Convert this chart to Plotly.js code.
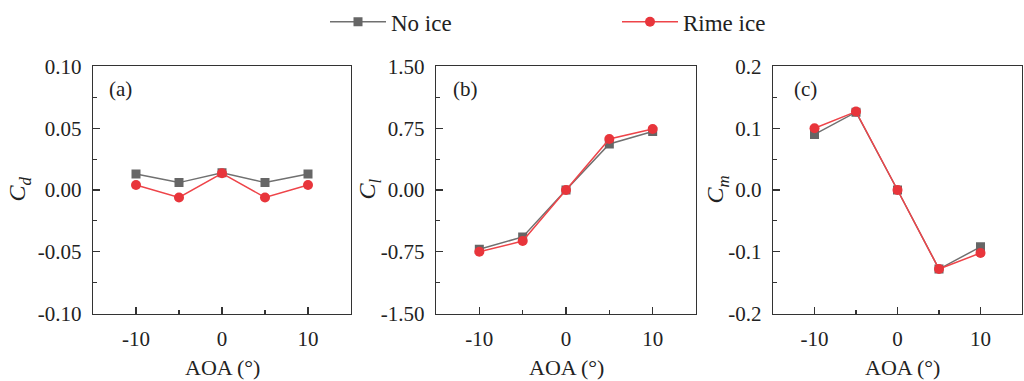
<!DOCTYPE html>
<html>
<head>
<meta charset="utf-8">
<script src="https://cdn.plot.ly/plotly-3.0.1.min.js"></script>
<style>
html,body{margin:0;padding:0;overflow:hidden;background:#fff;}
#chart{width:1024px;height:381px;}
</style>
</head>
<body>
<div id="chart"></div>
<script>
// ---- data ----
const aoa = [-10, -5, 0, 5, 10];
const cdNoIce = [0.013, 0.006, 0.014, 0.006, 0.013];
const cdRime = [0.004, -0.006, 0.0135, -0.006, 0.004];
const clNoIce = [-0.72, -0.57, 0.0, 0.56, 0.71];
const clRime = [-0.75, -0.62, 0.0, 0.62, 0.74];
const cmNoIce = [0.090, 0.126, 0.0, -0.128, -0.092];
const cmRime = [0.100, 0.127, 0.0, -0.128, -0.102];

const xTickVals = [-10, 0, 10];
const xTickText = ['-10', '0', '10'];
const cdTickVals = [-0.10, -0.05, 0.0, 0.05, 0.10];
const cdTickText = ['-0.10', '-0.05', '0.00', '0.05', '0.10'];
const clTickVals = [-1.5, -0.75, 0.0, 0.75, 1.5];
const clTickText = ['-1.50', '-0.75', '0.00', '0.75', '1.50'];
const cmTickVals = [-0.2, -0.1, 0.0, 0.1, 0.2];
const cmTickText = ['-0.2', '-0.1', '0.0', '0.1', '0.2'];

const seriesNames = ['No ice', 'Rime ice'];

// ---- styles ----
const grayLine = '#707070', grayMark = '#666666';
const redLine = '#ee4449', redMark = '#e8353b';
const FONT = '"Liberation Serif", "Times New Roman", serif';

function tr(y, i, xa, ya, show) {
  const noIce = i === 0;
  return {
    x: aoa, y: y, xaxis: xa, yaxis: ya, type: 'scatter', mode: 'lines+markers',
    name: seriesNames[i], showlegend: show, legendgroup: seriesNames[i],
    line: {color: noIce ? grayLine : redLine, width: 1.5},
    marker: noIce ? {symbol: 'square', size: 9, color: grayMark}
                  : {symbol: 'circle', size: 10, color: redMark}
  };
}

const data = [
  tr(cdNoIce, 0, 'x', 'y', true), tr(cdRime, 1, 'x', 'y', true),
  tr(clNoIce, 0, 'x2', 'y2', false), tr(clRime, 1, 'x2', 'y2', false),
  tr(cmNoIce, 0, 'x3', 'y3', false), tr(cmRime, 1, 'x3', 'y3', false)
];

const W = 1024, H = 381;
const yDom = [68 / H, 317 / H];

function xAx(d0, d1, anchor) {
  return {
    domain: [d0 / W, d1 / W], anchor: anchor, range: [-15, 15],
    tickvals: xTickVals, ticktext: xTickText,
    ticks: 'inside', ticklen: 7, tickwidth: 1.2, tickcolor: '#333',
    minor: {dtick: 5, tick0: 0, ticks: 'inside', ticklen: 4, tickwidth: 1.2, tickcolor: '#333', showgrid: false},
    showline: true, mirror: true, linecolor: '#333', linewidth: 1.4,
    showgrid: false, zeroline: false, ticklabelstandoff: 6,
    tickfont: {family: FONT, size: 21, color: '#222'}
  };
}
function yAx(range, vals, text, minorStep, anchor) {
  return {
    domain: yDom, anchor: anchor, range: range,
    tickvals: vals, ticktext: text,
    ticks: 'inside', ticklen: 7, tickwidth: 1.2, tickcolor: '#333',
    minor: {dtick: minorStep, tick0: 0, ticks: 'inside', ticklen: 4, tickwidth: 1.2, tickcolor: '#333', showgrid: false},
    showline: true, mirror: true, linecolor: '#333', linewidth: 1.4,
    showgrid: false, zeroline: false, ticklabelstandoff: 6,
    tickfont: {family: FONT, size: 21, color: '#222'}
  };
}

const ann = [];
function addText(text, px, py, opts) {
  ann.push(Object.assign({
    text: text, xref: 'paper', yref: 'paper', x: px / W, y: 1 - py / H,
    showarrow: false, font: {family: FONT, size: 22, color: '#222'}
  }, opts || {}));
}
// axis titles
addText('AOA (°)', 222, 367, {xanchor: 'center', yanchor: 'middle'});
addText('AOA (°)', 566, 367, {xanchor: 'center', yanchor: 'middle'});
addText('AOA (°)', 902, 367, {xanchor: 'center', yanchor: 'middle'});
addText('<i>C<sub>d</sub></i>', 19, 188, {textangle: -90, xanchor: 'center', yanchor: 'middle', font: {family: FONT, size: 24, color: '#222'}});
addText('<i>C<sub>l</sub></i>', 369, 188, {textangle: -90, xanchor: 'center', yanchor: 'middle', font: {family: FONT, size: 24, color: '#222'}});
addText('<i>C<sub>m</sub></i>', 717, 188, {textangle: -90, xanchor: 'center', yanchor: 'middle', font: {family: FONT, size: 24, color: '#222'}});
// panel labels
addText('(a)', 107, 87, {xanchor: 'left', yanchor: 'middle', font: {family: FONT, size: 21, color: '#222'}});
addText('(b)', 451, 87, {xanchor: 'left', yanchor: 'middle', font: {family: FONT, size: 21, color: '#222'}});
addText('(c)', 792, 87, {xanchor: 'left', yanchor: 'middle', font: {family: FONT, size: 21, color: '#222'}});

const layout = {
  width: W, height: H,
  margin: {l: 0, r: 0, t: 0, b: 0},
  paper_bgcolor: '#fff', plot_bgcolor: '#fff',
  font: {family: FONT, color: '#222'},
  showlegend: true,
  legend: {
    orientation: 'h', x: 325 / W, y: 1 - 19 / H, xanchor: 'left', yanchor: 'middle',
    font: {family: FONT, size: 23, color: '#222'},
    itemwidth: 56, entrywidth: 221, entrywidthmode: 'pixels',
    bgcolor: 'rgba(0,0,0,0)', borderwidth: 0, traceorder: 'normal'
  },
  xaxis: xAx(93, 351, 'y'),
  yaxis: yAx([-0.1, 0.1], cdTickVals, cdTickText, 0.025, 'x'),
  xaxis2: xAx(436, 696, 'y2'),
  yaxis2: yAx([-1.5, 1.5], clTickVals, clTickText, 0.375, 'x2'),
  xaxis3: xAx(773, 1022, 'y3'),
  yaxis3: yAx([-0.2, 0.2], cmTickVals, cmTickText, 0.05, 'x3'),
  annotations: ann
};

Plotly.newPlot('chart', data, layout, {displayModeBar: false, staticPlot: true});
</script>
</body>
</html>
